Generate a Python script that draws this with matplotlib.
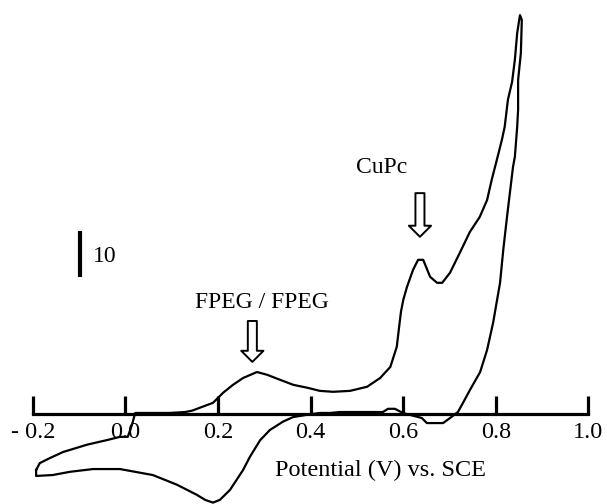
import matplotlib
matplotlib.use("Agg")
import matplotlib.pyplot as plt

# potential (V vs SCE) and current (uA), forward scan then reverse scan
v_fwd = [-0.193, -0.185, -0.163, -0.135, -0.083, -0.040, -0.012, 0.005, 0.014, 0.021,
         0.053, 0.096, 0.129, 0.144, 0.165, 0.189, 0.211, 0.232, 0.254, 0.284,
         0.306, 0.334, 0.363, 0.392, 0.420, 0.448, 0.485, 0.522, 0.550, 0.572,
         0.586, 0.591, 0.595, 0.600, 0.608, 0.621, 0.632, 0.643, 0.658, 0.673,
         0.684, 0.701, 0.722, 0.744, 0.765, 0.781, 0.791, 0.802, 0.813, 0.819,
         0.826, 0.835, 0.841, 0.846, 0.852]
i_fwd = [-12.2, -10.7, -9.6, -8.3, -6.7, -5.7, -5.0, -5.0, -2.4, 0.2,
         0.2, 0.2, 0.4, 0.7, 1.5, 2.4, 4.6, 6.3, 7.8, 9.1,
         8.5, 7.4, 6.3, 5.7, 5.0, 4.8, 5.0, 5.9, 7.8, 10.2,
         14.6, 18.9, 22.2, 24.8, 27.6, 31.3, 33.5, 33.5, 29.8, 28.5,
         28.5, 30.7, 35.0, 39.6, 42.8, 46.5, 50.9, 55.2, 59.6, 62.4,
         68.3, 72.2, 77.0, 82.8, 86.7]

v_rev = [0.856, 0.854, 0.848, 0.848, 0.846, 0.841, 0.837, 0.831, 0.824, 0.816,
         0.809, 0.794, 0.781, 0.766, 0.744, 0.729, 0.718, 0.701, 0.686, 0.651,
         0.640, 0.621, 0.599, 0.582, 0.567, 0.556, 0.463, 0.442, 0.420, 0.392,
         0.362, 0.340, 0.312, 0.291, 0.269, 0.254, 0.226, 0.204, 0.189, 0.172,
         0.154, 0.111, 0.059, -0.012, -0.070, -0.120, -0.157, -0.193, -0.193]
i_rev = [85.7, 78.5, 72.6, 66.1, 62.4, 55.9, 53.7, 48.7, 42.8, 35.7,
         28.5, 19.8, 13.9, 9.1, 5.2, 2.4, 0.4, -0.9, -2.0, -2.0,
         -0.9, -0.4, 0.2, 1.1, 1.1, 0.4, 0.4, 0.2, 0.2, -0.2,
         -0.7, -1.7, -3.5, -5.7, -9.3, -12.2, -16.5, -18.7, -19.3, -18.7,
         -17.6, -15.4, -13.3, -12.0, -12.0, -12.6, -13.3, -13.5, -12.2]

ticks = [-0.2, 0.0, 0.2, 0.4, 0.6, 0.8, 1.0]
tick_labels = ["- 0.2", "0.0", "0.2", "0.4", "0.6", "0.8", "1.0"]

plt.rcParams['font.family'] = ['Liberation Serif', 'DejaVu Serif']

fig = plt.figure(figsize=(6.07, 5.04), dpi=100)
ax = fig.add_axes([0, 0, 1, 1])

ax.plot(v_fwd + v_rev, i_fwd + i_rev, color='black', lw=1.6)

# axis line through zero current
for s in ['top', 'right', 'left']:
    ax.spines[s].set_visible(False)
ax.spines['bottom'].set_position(('data', 0))
ax.spines['bottom'].set_bounds(-0.2, 1.0)
ax.spines['bottom'].set_linewidth(2.3)
ax.set_xticks(ticks)
ax.set_xticklabels(tick_labels)
ax.tick_params(axis='x', direction='in', length=13, width=2.3, pad=6, labelsize=17.5)
ax.set_yticks([])

ax.set_xlim(-0.271, 1.040)
ax.set_ylim(-19.6, 90.0)

ax.text(0.55, -12.2, "Potential (V) vs. SCE", fontsize=17.5, ha='center', va='center')

# 10 uA scale bar
ax.plot([-0.098, -0.098], [29.8, 39.8], color='black', lw=3, solid_capstyle='butt')
ax.text(-0.070, 34.3, "10", fontsize=17, ha='left', va='center')

# peak labels with hollow arrows
ax.text(0.295, 24.3, "FPEG / FPEG", fontsize=17, ha='center', va='center')
ax.text(0.554, 53.5, "CuPc", fontsize=17, ha='center', va='center')
arrow = dict(arrowstyle="simple,head_length=0.8,head_width=1.6,tail_width=0.65",
             mutation_scale=10, fc='white', ec='black', lw=1.4, shrinkA=0, shrinkB=0)
ax.annotate("", xy=(0.274, 11.3), xytext=(0.274, 20.2), arrowprops=arrow)
ax.annotate("", xy=(0.636, 38.5), xytext=(0.636, 48.0), arrowprops=arrow)

fig.savefig("out.png", dpi=100)
